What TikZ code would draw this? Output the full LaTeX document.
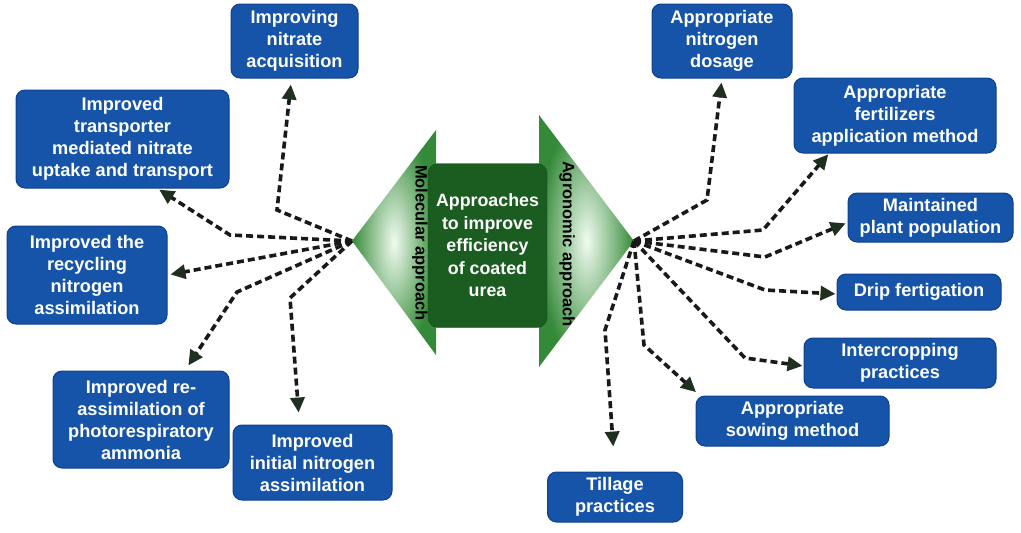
\documentclass[tikz,border=0pt]{standalone}
\usepackage{fontspec}
\setmainfont{Liberation Sans}
\usetikzlibrary{arrows.meta,positioning}
\definecolor{boxblue}{RGB}{22,84,170}
\definecolor{boxedge}{RGB}{14,64,140}
\definecolor{leafgreen}{RGB}{52,138,56}
\definecolor{palegreen}{RGB}{240,251,240}
\definecolor{coregreen}{RGB}{27,92,32}
\definecolor{tipgreen}{RGB}{32,48,32}
\tikzset{
	approach/.style={rounded corners=9pt, fill=boxblue, draw=boxedge, line width=1pt,
		text=white, align=center, inner sep=0pt, font=\bfseries\fontsize{18.2}{22}\selectfont},
	link/.style={draw=black!90, line width=3.6pt, dash pattern=on 7pt off 4pt,
		-{Triangle[length=15pt,width=14pt,color=tipgreen]}},
	side/.style={rotate=-90, font=\bfseries\fontsize{16.5}{18}\selectfont},
}

\begin{document}
\begin{tikzpicture}[x=1pt,y=-1pt]
\useasboundingbox (0,0) rectangle (1021,533);
% centre
\shade[inner color=palegreen, outer color=leafgreen] (352,241) -- (436,130) -- (436,355) -- cycle;
\shade[inner color=palegreen, outer color=leafgreen] (634,241) -- (539,115) -- (539,367) -- cycle;
\coordinate (ltip) at (352,241);
\coordinate (rtip) at (634,241);
\node[rounded corners=10pt, fill=coregreen, draw=coregreen!80!black, minimum width=119pt, minimum height=164pt,
	text=white, align=center, font=\bfseries\fontsize{17.8}{22.5}\selectfont] (core) at (487.5,245.5)
	{Approaches\\to improve\\efficiency\\of coated\\urea};
\node[side] (mol) at (420,243) {Molecular approach};
\node[side] (agro) at (567,244) {Agronomic approach};
% molecular side
\node[approach, minimum width=127pt, minimum height=74pt] (acq) at (294.5,41) {Improving\\nitrate\\acquisition};
\node[approach, minimum width=213pt, minimum height=98pt] (transp) at (122.5,139) {Improved\\transporter\\mediated nitrate\\uptake and transport};
\node[approach, minimum width=160pt, minimum height=98pt] (recyc) at (87,275) {Improved the\\recycling\\nitrogen\\assimilation};
\node[approach, minimum width=176pt, minimum height=97pt] (reassim) at (141,419.5) {Improved re-\\assimilation of\\photorespiratory\\ammonia};
\node[approach, minimum width=159pt, minimum height=75pt] (initial) at (312.5,462.5) {Improved\\initial nitrogen\\assimilation};
% agronomic side
\node[approach, minimum width=140pt, minimum height=74pt] (dosage) at (722,41) {Appropriate\\nitrogen\\dosage};
\node[approach, minimum width=202pt, minimum height=75pt] (method) at (895,115.5) {Appropriate\\fertilizers\\application method};
\node[approach, minimum width=165pt, minimum height=49pt] (popul) at (930.5,217.5) {Maintained\\plant population};
\node[approach, minimum width=164pt, minimum height=36pt] (drip) at (919,292) {Drip fertigation};
\node[approach, minimum width=192pt, minimum height=50pt] (intercrop) at (900,363) {Intercropping\\practices};
\node[approach, minimum width=193pt, minimum height=50pt] (sowing) at (792.5,421) {Appropriate\\sowing method};
\node[approach, minimum width=135pt, minimum height=50pt] (tillage) at (615,497) {Tillage\\practices};
% links
\draw[link, shorten >=6pt] (ltip) -- (277,210) -- ([xshift=-3pt]acq.south);
\draw[link, shorten >=2pt] (ltip) -- (230,235) -- ([xshift=35pt]transp.south);
\draw[link, shorten >=3pt] (ltip) -- (recyc.east);
\draw[link, shorten >=6pt] (ltip) -- (237,292) -- ([xshift=44pt]reassim.north);
\draw[link, shorten >=12pt] (ltip) -- (290,298) -- ([xshift=-13pt]initial.north);
\draw[link, shorten >=4pt] (rtip) -- (707,200) -- (dosage.south);
\draw[link, shorten >=1pt] (rtip) -- (763,230) -- ([xshift=-66pt]method.south);
\draw[link, shorten >=2pt] (rtip) -- (765,257) -- ([yshift=-5pt]popul.west);
\draw[link, shorten >=1pt] (rtip) -- (765,290) -- ([yshift=-2pt]drip.west);
\draw[link, shorten >=1pt] (rtip) -- (745,358) -- ([yshift=-3pt]intercrop.west);
\draw[link, shorten >=2pt] (rtip) -- (644,345) -- ([xshift=2pt,yshift=2pt]sowing.north west);
\draw[link, shorten >=25pt] (rtip) -- (605,330) -- (tillage.north);
\end{tikzpicture}
\end{document}
